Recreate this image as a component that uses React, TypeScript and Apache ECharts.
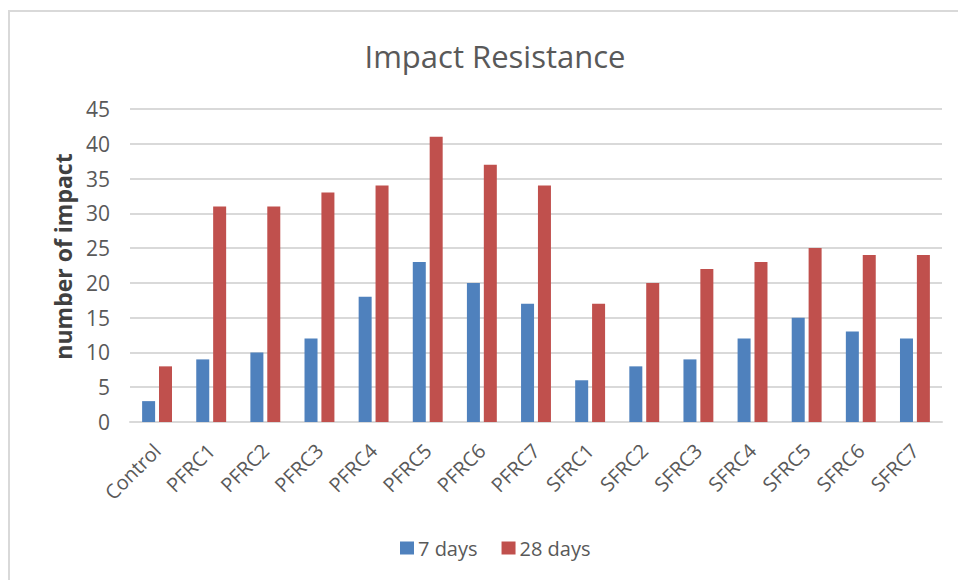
import React, { useEffect, useRef } from "react";
import * as echarts from "echarts";

const categories = ["Control", "PFRC1", "PFRC2", "PFRC3", "PFRC4", "PFRC5", "PFRC6", "PFRC7", "SFRC1", "SFRC2", "SFRC3", "SFRC4", "SFRC5", "SFRC6", "SFRC7"];
const days7 = [3, 9, 10, 12, 18, 23, 20, 17, 6, 8, 9, 12, 15, 13, 12];
const days28 = [8, 31, 31, 33, 34, 41, 37, 34, 17, 20, 22, 23, 25, 24, 24];
const seriesNames = ["7 days", "28 days"];

const FONT = "'Open Sans', 'Noto Sans', sans-serif";

export default function App() {
  const ref = useRef<HTMLDivElement>(null);
  useEffect(() => {
    if (!ref.current) return;
    const chart = echarts.init(ref.current, null, { renderer: "svg" });
    chart.setOption({
      animation: false,
      backgroundColor: "#ffffff",
      graphic: [
        {
          type: "rect",
          shape: { x: 9, y: 11, width: 1000, height: 700 },
          style: { fill: "none", stroke: "#d9d9d9", lineWidth: 2 },
          silent: true,
        },
      ],
      title: {
        text: "Impact Resistance",
        left: 490,
        textAlign: "center",
        top: 35,
        textStyle: { fontFamily: FONT, fontSize: 31, fontWeight: "normal", color: "#595959" },
      },
      legend: {
        bottom: 17,
        left: 395,
        data: seriesNames,
        icon: "rect",
        itemWidth: 14,
        itemHeight: 13,
        itemGap: 24,
        textStyle: { fontFamily: FONT, fontSize: 20, color: "#595959", padding: [0, 0, 0, -1] },
      },
      grid: { left: 130, right: 16, top: 109, bottom: 158, containLabel: false },
      xAxis: {
        type: "category",
        data: categories,
        axisLine: { lineStyle: { color: "#d9d9d9", width: 2 } },
        axisTick: { show: false },
        axisLabel: {
          rotate: 45,
          interval: 0,
          margin: 25,
          fontFamily: FONT,
          fontSize: 20,
          color: "#595959",
        },
      },
      yAxis: {
        type: "value",
        min: 0,
        max: 45,
        interval: 5,
        name: "number of impact",
        nameLocation: "middle",
        nameRotate: 90,
        nameGap: 56,
        nameTextStyle: { fontFamily: FONT, fontSize: 23, fontWeight: "bold", color: "#404040", padding: [0, 0, 0, 18] },
        axisLine: { show: false },
        axisTick: { show: false },
        splitLine: { lineStyle: { color: "#d9d9d9", width: 2 } },
        axisLabel: { fontFamily: FONT, fontSize: 21, color: "#595959", margin: 20 },
      },
      series: [
        {
          name: seriesNames[0],
          type: "bar",
          data: days7,
          barWidth: 13,
          barGap: "30%",
          itemStyle: { color: "#4f81bd" },
        },
        {
          name: seriesNames[1],
          type: "bar",
          data: days28,
          barWidth: 13,
          barGap: "30%",
          itemStyle: { color: "#c0504d" },
        },
      ],
    });
    return () => chart.dispose();
  }, []);
  return (
    <div
      ref={ref}
      style={{ position: "absolute", left: 0, top: 0, width: 958, height: 580 }}
    />
  );
}
